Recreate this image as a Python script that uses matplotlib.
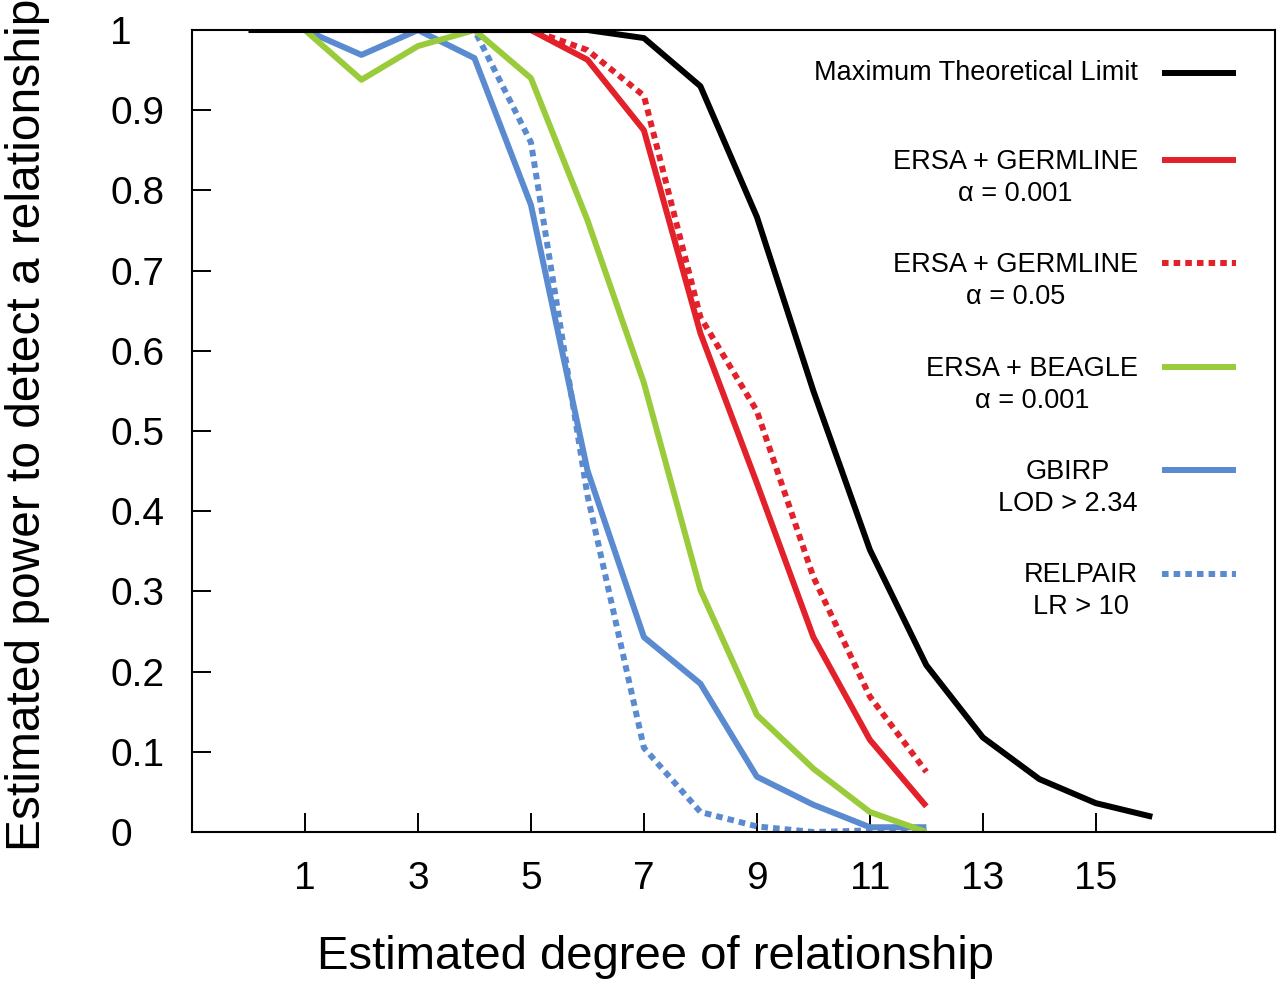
import matplotlib
matplotlib.use("Agg")
import matplotlib.pyplot as plt
import numpy as np

plt.rcParams['font.family'] = ['Liberation Sans', 'DejaVu Sans']

# degrees of relationship
deg_max = np.arange(0, 17)
deg = np.arange(1, 13)

max_limit = [1, 1, 1, 1, 1, 1, 1.0, 0.99, 0.93, 0.767, 0.55, 0.352, 0.208, 0.118, 0.066, 0.036, 0.019]
ersa_germ_001 = [1, 1, 1, 1, 1, 0.963, 0.875, 0.622, 0.435, 0.243, 0.115, 0.032]
ersa_germ_05 = [1, 1, 1, 1, 1, 0.975, 0.918, 0.642, 0.525, 0.318, 0.169, 0.075]
ersa_beagle = [1, 0.938, 0.98, 1.0, 0.94, 0.763, 0.56, 0.302, 0.146, 0.079, 0.025, 0.0]
gbirp = [1, 0.969, 1.0, 0.965, 0.782, 0.451, 0.243, 0.185, 0.069, 0.034, 0.006, 0.006]
relpair = [1, 1, 1, 1, 0.86, 0.42, 0.105, 0.025, 0.007, 0.0, 0.002, 0.002]

labels = ["Maximum Theoretical Limit",
          "ERSA + GERMLINE\n\u03b1 = 0.001",
          "ERSA + GERMLINE\n\u03b1 = 0.05",
          "ERSA + BEAGLE\n\u03b1 = 0.001",
          "GBIRP\nLOD > 2.34",
          "RELPAIR\nLR > 10"]

red = '#e2212a'
green = '#9acb3b'
blue = '#5a8bd0'
dots = (0, (1.1, 0.85))

series = [(deg_max, max_limit, 'black', '-'),
          (deg, ersa_germ_001, red, '-'),
          (deg, ersa_germ_05, red, dots),
          (deg, ersa_beagle, green, '-'),
          (deg, gbirp, blue, '-'),
          (deg, relpair, blue, dots)]

fig = plt.figure(figsize=(12.8, 9.85), dpi=100)
ax = fig.add_axes([0.15, 0.1553, 0.846, 0.8142])

# draw back to front so the black line is on top like the original
for x, y, c, ls in series[::-1]:
    ax.plot(x, y, color=c, linestyle=ls, lw=4.3, solid_capstyle='butt')

ax.set_xlim(-1, 18.17)
ax.set_ylim(0, 1)
ax.set_xticks(np.arange(1, 16, 2))
ax.set_yticks(np.arange(0, 1.01, 0.1))
ax.set_yticklabels(['0', '0.1', '0.2', '0.3', '0.4', '0.5', '0.6', '0.7', '0.8', '0.9', '1'])
for s in ax.spines.values():
    s.set_linewidth(1.5)
ax.tick_params(axis='x', direction='in', length=13.5, width=1.4, labelsize=28, pad=21)
ax.tick_params(axis='y', direction='in', length=13.5, width=1.4, labelsize=28, pad=59)
for t in ax.get_yticklabels():
    t.set_horizontalalignment('left')

ax.set_xlabel('Estimated degree of relationship', fontsize=34)
ax.xaxis.set_label_coords(0.428, -0.128)
ax.set_ylabel('Estimated power to detect a relationship', fontsize=34.5)
ax.yaxis.set_label_coords(-0.131, 0.508)

# legend, text left of the key
ys = [0.946, 0.838, 0.709, 0.580, 0.451, 0.322]
for (x, y, c, ls), lab, yy in zip(series, labels, ys):
    ax.plot([0.8957, 0.964], [yy, yy], transform=ax.transAxes, color=c,
            linestyle=ls, lw=4.3, solid_capstyle='butt', clip_on=False)
    if '\n' in lab:
        ax.text(0.8735, yy - 0.022, lab, transform=ax.transAxes, ha='right', va='center',
                multialignment='center', fontsize=19.5, linespacing=1.3)
    else:
        ax.text(0.8735, yy, lab, transform=ax.transAxes, ha='right', va='center', fontsize=19.5)

fig.savefig('out.png', dpi=100)
